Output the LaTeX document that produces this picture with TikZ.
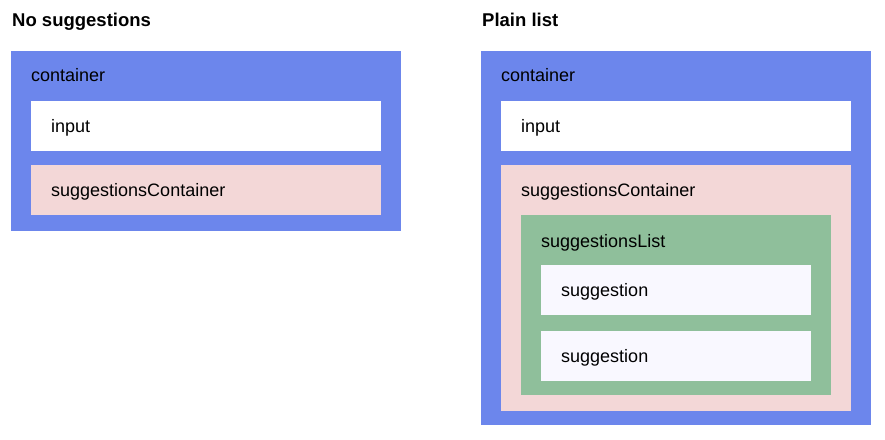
\documentclass[tikz,border=0pt]{standalone}
\usepackage{fontspec}
\setmainfont{Liberation Sans}
\definecolor{cblue}{HTML}{6C86EC}
\definecolor{cpink}{HTML}{F3D7D7}
\definecolor{cgreen}{HTML}{8FBF9B}
\definecolor{csugg}{HTML}{F9F8FF}
\begin{document}
\begin{tikzpicture}[x=1pt,y=-1pt,
  box/.style={draw=none,inner sep=0,outer sep=0,anchor=north west},
  lbl/.style={inner sep=0,anchor=base west,font=\fontsize{18}{21}\selectfont},
  ttl/.style={inner sep=0,anchor=base west,font=\fontsize{18.5}{22}\selectfont\bfseries}]
\useasboundingbox[fill=white] (0,0) rectangle (885,439);
% left
\node[ttl] (t1) at (12,27) {No suggestions};
\node[box,fill=cblue,minimum width=390pt,minimum height=180pt] (c1) at (11,51) {};
\node[lbl] (c1l) at (31,81) {container};
\node[box,fill=white,minimum width=350pt,minimum height=50pt] (i1) at (31,101) {};
\node[lbl] (i1l) at (51,132) {input};
\node[box,fill=cpink,minimum width=350pt,minimum height=50pt] (s1) at (31,165) {};
\node[lbl] (s1l) at (51,196) {suggestionsContainer};
% right
\node[ttl] (t2) at (482,27) {Plain list};
\node[box,fill=cblue,minimum width=390pt,minimum height=374pt] (c2) at (481,51) {};
\node[lbl] (c2l) at (501,81) {container};
\node[box,fill=white,minimum width=350pt,minimum height=50pt] (i2) at (501,101) {};
\node[lbl] (i2l) at (521,132) {input};
\node[box,fill=cpink,minimum width=350pt,minimum height=246pt] (s2) at (501,165) {};
\node[lbl] (s2l) at (521,196.5) {suggestionsContainer};
\node[box,fill=cgreen,minimum width=310pt,minimum height=180pt] (l2) at (521,215) {};
\node[lbl] (l2l) at (541,247) {suggestionsList};
\node[box,fill=csugg,minimum width=270pt,minimum height=50pt] (g1) at (541,265) {};
\node[lbl] (g1l) at (561,296.5) {suggestion};
\node[box,fill=csugg,minimum width=270pt,minimum height=50pt] (g2) at (541,331) {};
\node[lbl] (g2l) at (561,362.5) {suggestion};
\end{tikzpicture}
\end{document}
